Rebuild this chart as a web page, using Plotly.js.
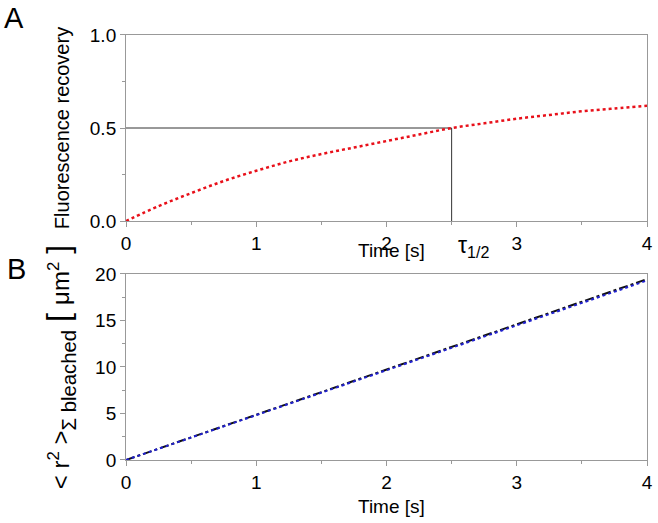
<!DOCTYPE html>
<html>
<head>
<meta charset="utf-8">
<script src="https://cdn.plot.ly/plotly-3.0.1.min.js"></script>
<style>
  html, body { margin: 0; padding: 0; background: #fff; }
  #chart { width: 658px; height: 523px; }
</style>
</head>
<body>
<div id="chart"></div>
<script>
// ---- panel A: fluorescence recovery ----
const timeA = [0, 0.25, 0.5, 0.75, 1, 1.25, 1.5, 1.75, 2, 2.25, 2.5, 2.75, 3, 3.25, 3.5, 3.75, 4];
const recovery = [0, 0.08, 0.15, 0.215, 0.27, 0.32, 0.36, 0.395, 0.43, 0.465, 0.5, 0.525, 0.55, 0.57, 0.59, 0.605, 0.62];
const tauHalf = 2.5;
const halfLevel = 0.5;

// ---- panel B: mean squared displacement ----
const timeB = [0, 1, 2, 3, 4];
const msdBlack = [0, 4.87, 9.72, 14.6, 19.45];
const msdBlue = [0, 4.83, 9.65, 14.5, 19.3];

const FONT = "Liberation Sans, Arial, sans-serif";

const axisBase = {
  showline: true, mirror: true, linecolor: "#999", linewidth: 1,
  ticks: "outside", ticklen: 5, tickcolor: "#999",
  showgrid: false, zeroline: false,
  tickfont: {family: FONT, size: 19, color: "#000"},
};

const data = [
  {
    x: [0, tauHalf, tauHalf], y: [halfLevel, halfLevel, 0],
    xaxis: "x", yaxis: "y", mode: "lines",
    line: {color: "#333", width: 1}, hoverinfo: "skip"
  },
  {
    x: timeA, y: recovery, xaxis: "x", yaxis: "y", mode: "lines",
    line: {color: "#e8101a", width: 2.5, dash: "dot", shape: "spline"}
  },
  {
    x: timeB, y: msdBlack, xaxis: "x2", yaxis: "y2", mode: "lines",
    line: {color: "#111", width: 2, dash: "dashdot"}
  },
  {
    x: timeB, y: msdBlue, xaxis: "x2", yaxis: "y2", mode: "lines",
    line: {color: "#2020d0", width: 2, dash: "dot"}
  }
];

// y title of panel B: big base size so the subscript stays large, other parts shrunk
const msdTitle =
  "<span style='font-size:24px'>&lt; r<sup>2</sup> &gt;</span>" +
  "<sub>Σ bleached</sub> " +
  "<span style='font-size:32px'>[</span> " +
  "<span style='font-size:24px'>μm<sup>2</sup></span> " +
  "<span style='font-size:32px'>]</span>";

const layout = {
  width: 658, height: 523,
  margin: {l: 0, r: 0, t: 0, b: 0},
  paper_bgcolor: "#fff", plot_bgcolor: "#fff",
  showlegend: false,
  font: {family: FONT, color: "#000"},
  xaxis: Object.assign({}, axisBase, {
    domain: [0.1915, 0.9833], anchor: "y", range: [0, 4],
    tickvals: [0, 1, 2, 3, 4],
    minor: {ticks: "outside", ticklen: 3, tickcolor: "#999", dtick: 0.5, tick0: 0}
  }),
  yaxis: Object.assign({}, axisBase, {
    domain: [0.5774, 0.9331], anchor: "x", range: [0, 1],
    tickvals: [0, 0.5, 1], ticktext: ["0.0", "0.5", "1.0"],
    minor: {ticks: "outside", ticklen: 3, tickcolor: "#999", dtick: 0.25, tick0: 0},
    title: {text: "Fluorescence recovery", font: {family: FONT, size: 20}, standoff: 14}
  }),
  xaxis2: Object.assign({}, axisBase, {
    domain: [0.1915, 0.9833], anchor: "y2", range: [0, 4],
    tickvals: [0, 1, 2, 3, 4],
    minor: {ticks: "outside", ticklen: 3, tickcolor: "#999", dtick: 0.5, tick0: 0}
  }),
  yaxis2: Object.assign({}, axisBase, {
    domain: [0.1205, 0.4761], anchor: "x2", range: [0, 20],
    tickvals: [0, 5, 10, 15, 20],
    minor: {ticks: "outside", ticklen: 3, tickcolor: "#999", dtick: 2.5, tick0: 0},
    title: {text: msdTitle, font: {family: FONT, size: 29}, standoff: 16}
  }),
  annotations: [
    {text: "A", xref: "paper", yref: "paper", x: 0.003, y: 1.0, xanchor: "left", yanchor: "top",
     showarrow: false, font: {family: FONT, size: 29}},
    {text: "B", xref: "paper", yref: "paper", x: 0.008, y: 0.52, xanchor: "left", yanchor: "top",
     showarrow: false, font: {family: FONT, size: 29}},
    {text: "Time [s]", xref: "paper", yref: "paper", x: 391 / 658, y: 1 - 251 / 523, xanchor: "center", yanchor: "middle",
     showarrow: false, font: {family: FONT, size: 19}},
    {text: "τ<sub>1/2</sub>", xref: "x", yref: "paper", x: tauHalf, y: 1 - 246 / 523, xanchor: "left", yanchor: "middle",
     xshift: 4, showarrow: false, font: {family: FONT, size: 23}},
    {text: "Time [s]", xref: "paper", yref: "paper", x: 391 / 658, y: 1 - 506 / 523, xanchor: "center", yanchor: "middle",
     showarrow: false, font: {family: FONT, size: 19}}
  ]
};

Plotly.newPlot("chart", data, layout, {displayModeBar: false, staticPlot: true});
</script>
</body>
</html>
